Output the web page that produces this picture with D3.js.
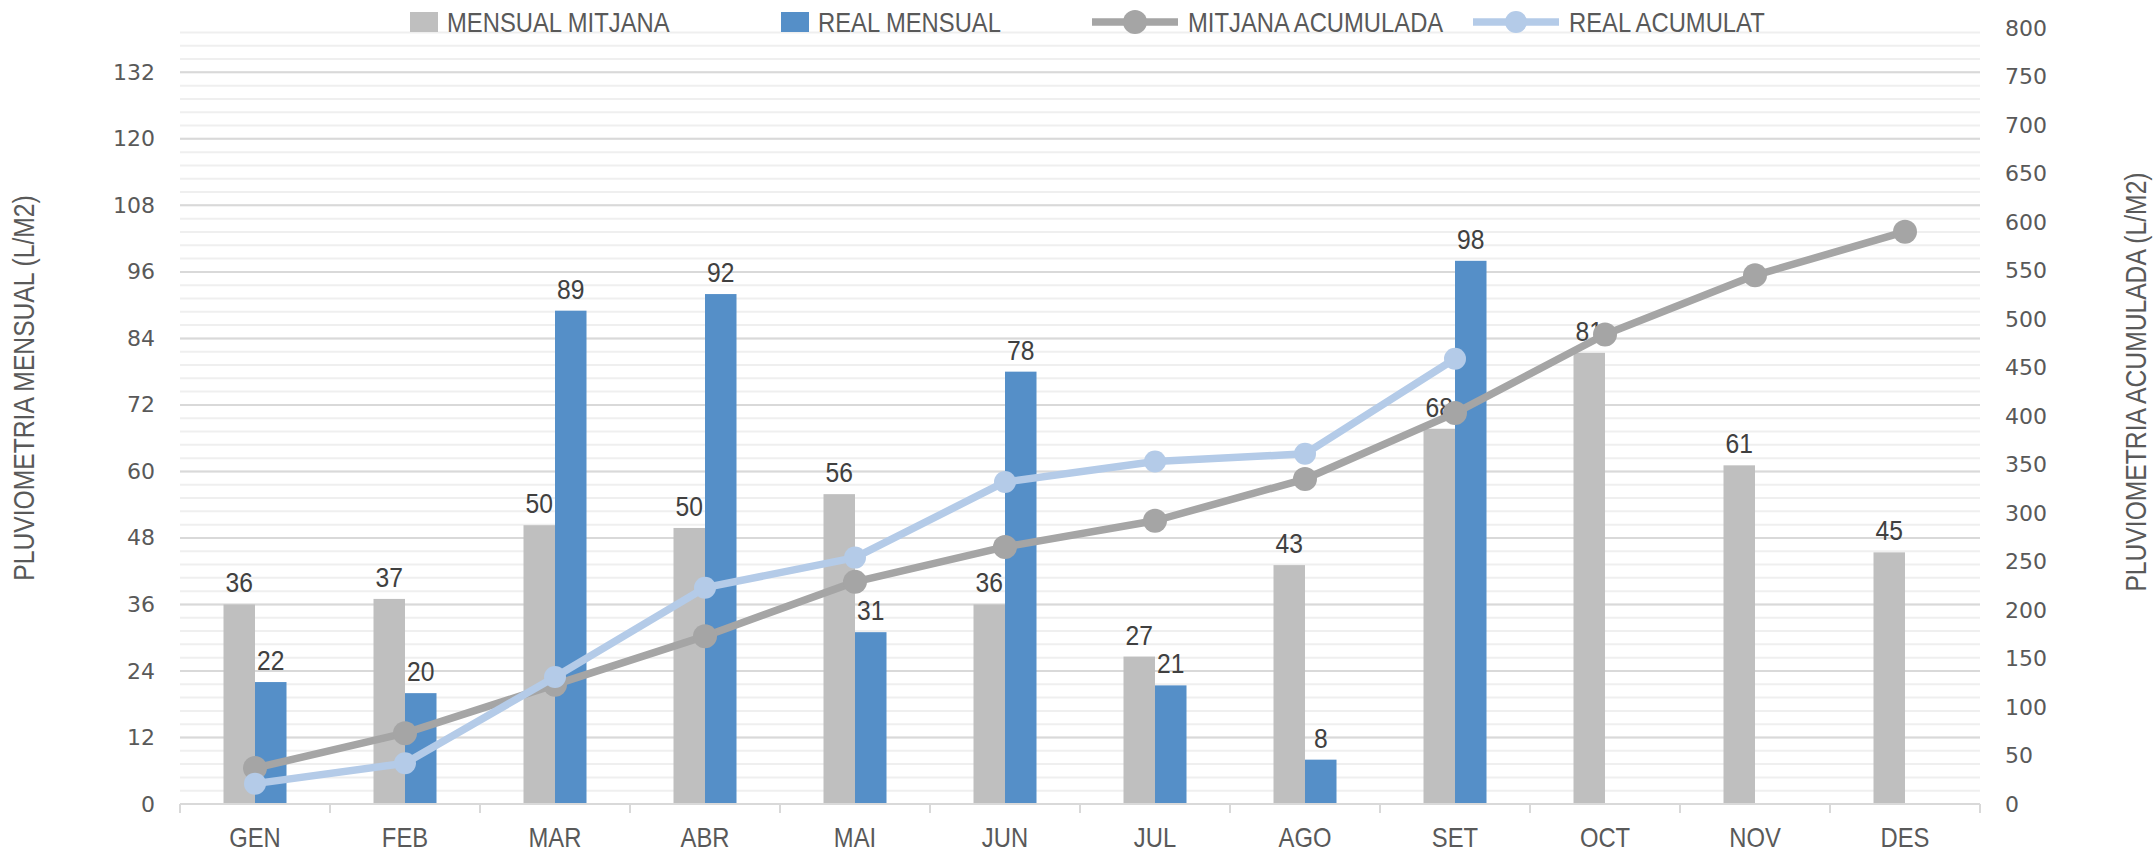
<!DOCTYPE html>
<html>
<head>
<meta charset="utf-8">
<script src="https://cdn.jsdelivr.net/npm/d3@7"></script>
<style>
  html, body { margin: 0; padding: 0; background: #fff; }
  svg { display: block; }
  .tick text { font-family: 'DejaVu Sans', sans-serif; font-size: 22px; fill: #595959; }
  .lbl { font-family: 'Liberation Sans', sans-serif; fill: #404040; }
  .cat, .ttl, .leg { font-family: 'Liberation Sans', sans-serif; fill: #595959; }
</style>
</head>
<body>
<div id="chart"></div>
<script>
// values
const months = ['GEN', 'FEB', 'MAR', 'ABR', 'MAI', 'JUN', 'JUL', 'AGO', 'SET', 'OCT', 'NOV', 'DES'];
const mensualMitjana = [36, 37, 50.3, 49.8, 55.9, 36, 26.6, 43.1, 67.7, 81.4, 61.1, 45.4];
const realMensual = [22, 20, 89, 92, 31, 78, 21.4, 8, 98];
const mitjanaAcumulada = [37, 73, 123, 173, 229, 265, 292, 335, 403, 484, 545, 590];
const realAcumulat = [21, 42, 131, 223, 254, 332, 353, 361, 459];
const leftTicks = [0, 12, 24, 36, 48, 60, 72, 84, 96, 108, 120, 132];
const rightTicks = [0, 50, 100, 150, 200, 250, 300, 350, 400, 450, 500, 550, 600, 650, 700, 750, 800];
const legendNames = ['MENSUAL MITJANA', 'REAL MENSUAL', 'MITJANA ACUMULADA', 'REAL ACUMULAT'];

const W = 2153, H = 852;
const margin = { top: 28, right: 173, bottom: 48, left: 180 },
      width = W - margin.left - margin.right,
      height = H - margin.top - margin.bottom;

const cGray = '#bfbfbf', cBlue = '#558fc8', cLine = '#a5a5a5', cLight = '#b4cbe8';

// squeeze text horizontally (the original uses a narrow font)
function narrow(sel, k) {
  sel.each(function () {
    const w = this.getComputedTextLength();
    d3.select(this).attr('textLength', w * k).attr('lengthAdjust', 'spacingAndGlyphs');
  });
}

const svg = d3.select('#chart').append('svg')
    .attr('width', W)
    .attr('height', H);

const g = svg.append('g')
    .attr('transform', 'translate(' + margin.left + ',' + margin.top + ')');

const x = d3.scaleBand().domain(months).range([0, width]).paddingInner(0).paddingOuter(0);
const yL = d3.scaleLinear().domain([0, 140]).range([height, 0]);
const yR = d3.scaleLinear().domain([0, 800]).range([height, 0]);
const barW = 31.5;

// minor gridlines (every 2.4)
const minor = d3.range(0, 59).map(i => +(i * 2.4).toFixed(1));
g.append('g').selectAll('line').data(minor).join('line')
    .attr('x1', 0).attr('x2', width)
    .attr('y1', d => yL(d)).attr('y2', d => yL(d))
    .attr('stroke', '#efefef').attr('stroke-width', 2);
g.append('g').selectAll('line').data(leftTicks.slice(1)).join('line')
    .attr('x1', 0).attr('x2', width)
    .attr('y1', d => yL(d)).attr('y2', d => yL(d))
    .attr('stroke', '#d9d9d9').attr('stroke-width', 2);

// axes
g.append('g')
    .call(d3.axisLeft(yL).tickValues(leftTicks).tickSize(0).tickPadding(25))
    .call(a => a.select('.domain').remove());
g.append('g')
    .attr('transform', 'translate(' + width + ',0)')
    .call(d3.axisRight(yR).tickValues(rightTicks).tickSize(0).tickPadding(25))
    .call(a => a.select('.domain').remove());

// bars
g.append('g').selectAll('rect').data(mensualMitjana).join('rect')
    .attr('x', (d, i) => x(months[i]) + x.bandwidth() / 2 - barW)
    .attr('y', d => yL(d))
    .attr('width', barW)
    .attr('height', d => height - yL(d))
    .attr('fill', cGray);
g.append('g').selectAll('rect').data(realMensual).join('rect')
    .attr('x', (d, i) => x(months[i]) + x.bandwidth() / 2)
    .attr('y', d => yL(d))
    .attr('width', barW)
    .attr('height', d => height - yL(d))
    .attr('fill', cBlue);

// x axis line and ticks
g.append('line')
    .attr('x1', 0).attr('x2', width).attr('y1', height).attr('y2', height)
    .attr('stroke', '#d9d9d9').attr('stroke-width', 2);
g.append('g').selectAll('line').data(months.concat(['end'])).join('line')
    .attr('x1', (d, i) => i * x.bandwidth()).attr('x2', (d, i) => i * x.bandwidth())
    .attr('y1', height).attr('y2', height + 9)
    .attr('stroke', '#d9d9d9').attr('stroke-width', 2);
g.append('g').selectAll('text').data(months).join('text')
    .attr('class', 'cat')
    .attr('x', d => x(d) + x.bandwidth() / 2)
    .attr('y', height + 43)
    .attr('text-anchor', 'middle')
    .attr('font-size', 28)
    .text(d => d)
    .call(narrow, 0.85);

// data labels
const fmt = d3.format('.0f');
g.append('g').selectAll('text').data(mensualMitjana).join('text')
    .attr('class', 'lbl')
    .attr('x', (d, i) => x(months[i]) + x.bandwidth() / 2 - barW / 2)
    .attr('y', d => yL(d) - 12)
    .attr('text-anchor', 'middle')
    .attr('font-size', 28)
    .text(d => fmt(d))
    .call(narrow, 0.88);
g.append('g').selectAll('text').data(realMensual).join('text')
    .attr('class', 'lbl')
    .attr('x', (d, i) => x(months[i]) + x.bandwidth() / 2 + barW / 2)
    .attr('y', d => yL(d) - 12)
    .attr('text-anchor', 'middle')
    .attr('font-size', 28)
    .text(d => fmt(d))
    .call(narrow, 0.88);

// lines
const line = d3.line()
    .x((d, i) => x(months[i]) + x.bandwidth() / 2)
    .y(d => yR(d));

g.append('path').datum(mitjanaAcumulada)
    .attr('d', line).attr('fill', 'none')
    .attr('stroke', cLine).attr('stroke-width', 7.5).attr('stroke-linejoin', 'round');
g.append('g').selectAll('circle').data(mitjanaAcumulada).join('circle')
    .attr('cx', (d, i) => x(months[i]) + x.bandwidth() / 2)
    .attr('cy', d => yR(d)).attr('r', 12).attr('fill', cLine);

g.append('path').datum(realAcumulat)
    .attr('d', line).attr('fill', 'none')
    .attr('stroke', cLight).attr('stroke-width', 7.5).attr('stroke-linejoin', 'round');
g.append('g').selectAll('circle').data(realAcumulat).join('circle')
    .attr('cx', (d, i) => x(months[i]) + x.bandwidth() / 2)
    .attr('cy', d => yR(d)).attr('r', 11).attr('fill', cLight);

// axis titles
svg.append('text').attr('class', 'ttl')
    .attr('transform', 'translate(34,388) rotate(-90)')
    .attr('text-anchor', 'middle').attr('font-size', 29)
    .text('PLUVIOMETRIA MENSUAL (L/M2)')
    .call(narrow, 0.85);
svg.append('text').attr('class', 'ttl')
    .attr('transform', 'translate(2146,382) rotate(-90)')
    .attr('text-anchor', 'middle').attr('font-size', 29)
    .text('PLUVIOMETRIA ACUMULADA (L/M2)')
    .call(narrow, 0.85);

// legend
const legX = [410, 781, 1092, 1473];
const leg = svg.append('g').selectAll('g').data(legendNames).join('g')
    .attr('transform', (d, i) => 'translate(' + legX[i] + ',22)');
leg.each(function (d, i) {
  const s = d3.select(this);
  if (i < 2) {
    s.append('rect').attr('x', 0).attr('y', -10).attr('width', 28).attr('height', 20)
      .attr('fill', i === 0 ? cGray : cBlue);
    s.append('text').attr('class', 'leg').attr('x', 37).attr('y', 0)
      .attr('dy', '0.36em').attr('font-size', 28).text(d)
      .call(narrow, 0.85);
  } else {
    const col = i === 2 ? cLine : cLight;
    s.append('line').attr('x1', 0).attr('x2', 86).attr('y1', 0).attr('y2', 0)
      .attr('stroke', col).attr('stroke-width', 7.5);
    s.append('circle').attr('cx', 43).attr('cy', 0).attr('r', i === 2 ? 12 : 11).attr('fill', col);
    s.append('text').attr('class', 'leg').attr('x', 96).attr('y', 0)
      .attr('dy', '0.36em').attr('font-size', 28).text(d)
      .call(narrow, 0.85);
  }
});
</script>
</body>
</html>
